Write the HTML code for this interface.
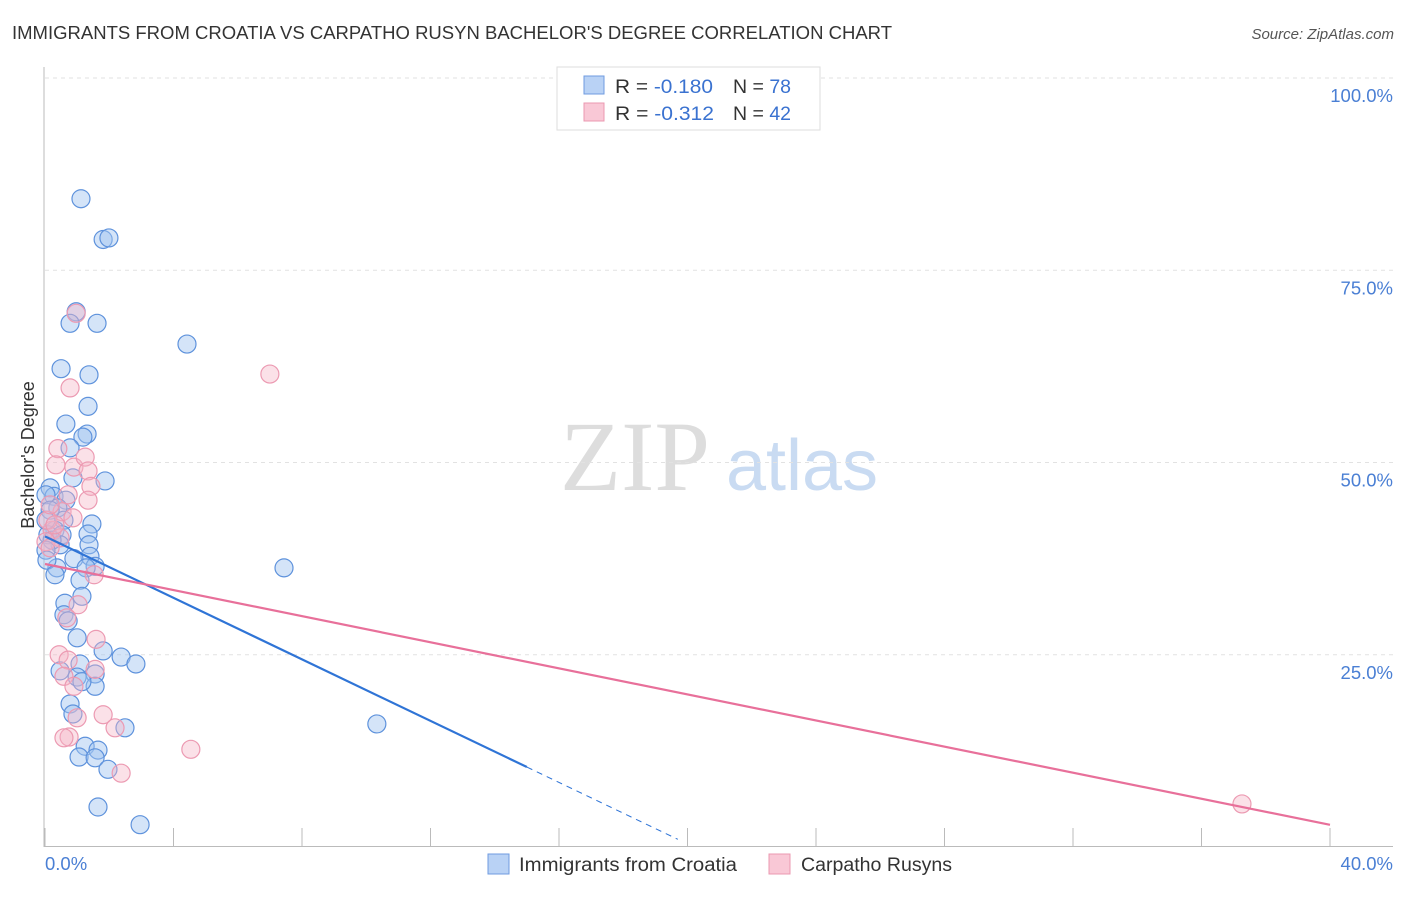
<!DOCTYPE html>
<html><head><meta charset="utf-8"><style>
body{margin:0;background:#fff;font-family:"Liberation Sans",sans-serif;}
svg text{font-family:"Liberation Sans",sans-serif;}
</style></head><body>
<svg id="c" width="1406" height="892" xmlns="http://www.w3.org/2000/svg">
<text x="12" y="39" font-size="18" fill="#333" textLength="880" lengthAdjust="spacingAndGlyphs">IMMIGRANTS FROM CROATIA VS CARPATHO RUSYN BACHELOR'S DEGREE CORRELATION CHART</text>
<text x="1394" y="39" font-size="15" fill="#555" font-style="italic" text-anchor="end">Source: ZipAtlas.com</text>
<g>
<text x="635" y="490" font-size="100" fill="#ddd" text-anchor="middle" style="font-family:'Liberation Serif',serif">ZIP</text>
<text x="802" y="490" font-size="72" fill="#c9dbf2" text-anchor="middle">atlas</text>
</g>
<g id="grid"></g>
<line x1="44" y1="67" x2="44" y2="847" stroke="#bbb"/>
<line x1="44" y1="846.5" x2="1393" y2="846.5" stroke="#bbb"/>
<g id="ticks"></g>
<text transform="translate(34,455) rotate(-90)" font-size="18" fill="#333" text-anchor="middle">Bachelor's Degree</text>
<text x="45" y="870" font-size="18.5" fill="#4a7fd4">0.0%</text>
<text x="1393" y="870" font-size="18.5" fill="#4a7fd4" text-anchor="end">40.0%</text>
<g id="pts"></g>
<g id="lines"></g>
<g>
<rect x="557" y="67" width="263" height="63" fill="#fff" stroke="#ddd"/>
<rect x="584" y="76" width="20" height="18" fill="#b9d2f5" stroke="#6f9be0"/>
<rect x="584" y="103" width="20" height="18" fill="#f9c8d6" stroke="#eb98b0"/>
<text x="615" y="93" font-size="19.5" fill="#333" textLength="98" lengthAdjust="spacingAndGlyphs">R = <tspan fill="#3a72d0">-0.180</tspan></text>
<text x="733" y="93" font-size="19.5" fill="#333">N = <tspan fill="#3a72d0">78</tspan></text>
<text x="615" y="120" font-size="19.5" fill="#333" textLength="99" lengthAdjust="spacingAndGlyphs">R = <tspan fill="#3a72d0">-0.312</tspan></text>
<text x="733" y="120" font-size="19.5" fill="#333">N = <tspan fill="#3a72d0">42</tspan></text>
</g>
<g>
<rect x="488" y="854" width="21" height="20" fill="#b9d2f5" stroke="#6f9be0"/>
<text x="519" y="871" font-size="19" fill="#333" textLength="218" lengthAdjust="spacingAndGlyphs">Immigrants from Croatia</text>
<rect x="769" y="854" width="21" height="20" fill="#f9c8d6" stroke="#eb98b0"/>
<text x="801" y="871" font-size="19" fill="#333" textLength="151" lengthAdjust="spacingAndGlyphs">Carpatho Rusyns</text>
</g>
</svg>
<script>
const yTicks=[25,50,75,100];
const yTickLabels=["25.0%","50.0%","75.0%","100.0%"];
const xTicks=[0,4,8,12,16,20,24,28,32,36,40];
const blueX=[1.12,1.81,1.99,0.97,0.78,1.62,4.42,0.50,1.37,1.34,0.65,1.31,1.18,0.78,0.87,1.87,0.16,0.28,0.65,0.40,0.59,1.46,0.31,0.09,0.53,1.34,1.37,0.47,1.40,0.90,1.56,0.37,1.28,1.09,1.15,0.62,0.59,0.72,1.00,1.81,2.37,2.83,1.09,0.47,1.00,1.56,1.56,1.15,0.78,0.87,2.49,1.25,1.65,1.06,1.56,1.96,1.65,2.96,7.44,10.33,0.03,0.16,0.03,0.22,0.03,0.06,0.31];
const blueY=[84.3,79.0,79.2,69.6,68.1,68.1,65.4,62.2,61.4,57.3,55.0,53.7,53.3,51.9,48.0,47.6,46.7,45.6,45.1,44.1,42.5,42.0,41.2,40.6,40.6,40.7,39.3,39.3,37.8,37.5,36.5,36.3,36.3,34.7,32.6,31.7,30.2,29.4,27.2,25.5,24.7,23.8,23.8,22.9,22.1,22.5,20.9,21.5,18.6,17.3,15.5,13.1,12.6,11.7,11.6,10.1,5.2,2.9,36.3,16.0,45.8,43.8,42.5,39.9,38.6,37.3,35.4];
const pinkX=[0.97,7.00,0.78,0.40,0.34,0.90,1.25,1.34,1.43,0.72,1.34,0.53,0.87,0.22,0.47,0.03,0.16,1.53,1.03,0.68,1.59,0.44,0.72,1.56,0.59,0.90,1.00,1.81,2.18,0.75,0.59,2.37,4.54,37.26,0.09,0.31,0.16];
const pinkY=[69.4,61.5,59.7,51.8,49.7,49.4,50.7,48.9,46.9,45.8,45.1,43.6,42.8,41.2,40.2,39.7,38.9,35.4,31.5,29.8,27.0,25.0,24.3,23.1,22.2,20.9,16.8,17.2,15.5,14.3,14.2,9.6,12.7,5.6,42.5,41.9,44.5];
const blueTrend=[40.4,-2.0];
const pinkTrend=[36.8,-0.848];
const blueSolidEnd=15.0, blueDashEnd=19.7;
const X=v=>45+v/40*1285, Y=v=>847-v/100*769;
const NS="http://www.w3.org/2000/svg";
function mk(tag,attrs,parent){const e=document.createElementNS(NS,tag);for(const k in attrs)e.setAttribute(k,attrs[k]);parent.appendChild(e);return e;}
const grid=document.getElementById('grid');
yTicks.forEach((t,i)=>{
 const l=mk('line',{x1:45,x2:1393,y1:Y(t),y2:Y(t),stroke:'#e2e2e2','stroke-dasharray':'4,4'},grid);
 
 
 const tx=mk('text',{x:1393,y:Y(t)+24,'font-size':18.5,fill:'#4a7fd4','text-anchor':'end'},grid);
 tx.textContent=yTickLabels[i];
 
 
});
const tk=document.getElementById('ticks');
xTicks.forEach(t=>{
 const l=mk('line',{x1:X(t),x2:X(t),y1:828,y2:846,stroke:'#bbb'},tk);
 
 
});
const pts=document.getElementById('pts');
blueX.forEach((x,i)=>{
 const c=mk('circle',{cx:X(x),cy:Y(blueY[i]),r:9,fill:'rgba(160,196,240,0.45)',stroke:'#5e92dc','stroke-width':1.2},pts);
 
 
});
pinkX.forEach((x,i)=>{
 const c=mk('circle',{cx:X(x),cy:Y(pinkY[i]),r:9,fill:'rgba(246,180,198,0.4)',stroke:'#ec9ab2','stroke-width':1.2},pts);
 
 
});
const ln=document.getElementById('lines');
const f=(t,x)=>t[0]+t[1]*x;
let a=mk('line',{x1:X(0),y1:Y(f(blueTrend,0)),x2:X(blueSolidEnd),y2:Y(f(blueTrend,blueSolidEnd)),stroke:'#2f74d6','stroke-width':2.2},ln);


a=mk('line',{x1:X(blueSolidEnd),y1:Y(f(blueTrend,blueSolidEnd)),x2:X(blueDashEnd),y2:Y(f(blueTrend,blueDashEnd)),stroke:'#2f74d6','stroke-width':1,'stroke-dasharray':'6,5'},ln);


a=mk('line',{x1:X(0),y1:Y(f(pinkTrend,0)),x2:X(40),y2:Y(f(pinkTrend,40)),stroke:'#e8709a','stroke-width':2.2},ln);


</script>
</body></html>
